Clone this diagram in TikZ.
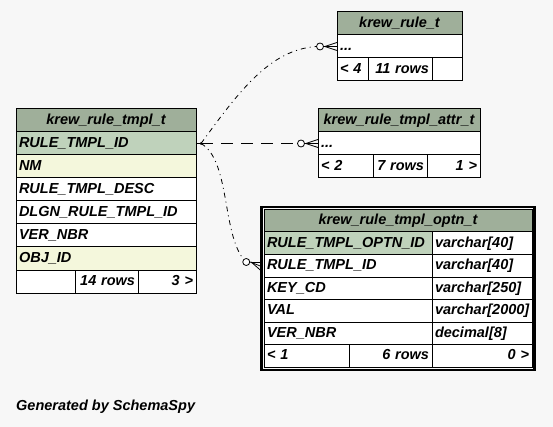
\documentclass[tikz,border=0pt]{standalone}
\usepackage{fontspec}
\setmainfont{Liberation Sans}
\usetikzlibrary{positioning,calc,fit}
\definecolor{bgcol}{HTML}{F7F7F7}
\definecolor{hdrcol}{HTML}{9FAF9A}
\definecolor{keycol}{HTML}{BFD2BB}
\definecolor{idxcol}{HTML}{F4F7DC}
\tikzset{
    cell/.style={draw,rectangle,anchor=north west,line width=1pt,inner xsep=3pt,inner ysep=0pt,outer sep=0pt,
        minimum height=23pt,minimum width=#1,text width=#1-6pt,text height=10.5pt,text depth=3pt,align=left,fill=white,
        font=\fontsize{14.5}{17}\selectfont\bfseries\itshape},
    hdr/.style={fill=hdrcol,align=center},
    pk/.style={fill=keycol},
    idx/.style={fill=idxcol},
    rgt/.style={align=right},
    rel/.style={line width=0.8pt,dash pattern=on 5pt off 4pt on 1pt off 4pt},
    fk/.style={line width=0.8pt,dash pattern=on 12pt off 8pt},
    zero/.style={circle,draw,line width=0.8pt,fill=white,minimum size=7pt,inner sep=0pt}
}

\begin{document}
\begin{tikzpicture}[x=1pt,y=-1pt]
    \fill[bgcol] (0,0) rectangle (553,427);
    \useasboundingbox (0,0) rectangle (553,427);

    % krew_rule_tmpl_t
    \node[cell=180,hdr] (tmplhdr) at (16,109) {krew\_rule\_tmpl\_t};
    \node[cell=180,pk] (tmplid) at (16,132) {RULE\_TMPL\_ID};
    \node[cell=180,idx] (tmplnm) at (16,155) {NM};
    \node[cell=180] (tmpldesc) at (16,178) {RULE\_TMPL\_DESC};
    \node[cell=180] (tmpldlgn) at (16,201) {DLGN\_RULE\_TMPL\_ID};
    \node[cell=180] (tmplver) at (16,224) {VER\_NBR};
    \node[cell=180,idx] (tmplobj) at (16,247) {OBJ\_ID};
    \node[cell=59] (tmplft1) at (16,270) {};
    \node[cell=63,rgt] (tmplft2) at (75,270) {14 rows};
    \node[cell=58,rgt] (tmplft3) at (138,270) {3 >};

    % krew_rule_t
    \node[cell=125,hdr] (rulehdr) at (337,12) {krew\_rule\_t};
    \node[cell=125] (rulerow) at (337,35) {...};
    \node[cell=31] (ruleft1) at (337,58) {< 4};
    \node[cell=64,rgt] (ruleft2) at (368,58) {11 rows};
    \node[cell=30] (ruleft3) at (432,58) {};

    % krew_rule_tmpl_attr_t
    \node[cell=162,hdr] (attrhdr) at (318,109) {krew\_rule\_tmpl\_attr\_t};
    \node[cell=162] (attrrow) at (318,132) {...};
    \node[cell=55] (attrft1) at (318,155) {< 2};
    \node[cell=54,rgt] (attrft2) at (373,155) {7 rows};
    \node[cell=53,rgt] (attrft3) at (427,155) {1 >};

    % krew_rule_tmpl_optn_t
    \begin{scope}[every node/.append style={minimum height=22.5pt}]
        \node[cell=268,hdr] (optnhdr) at (264,209.5) {krew\_rule\_tmpl\_optn\_t};
        \node[cell=168,pk] (optnid) at (264,232) {RULE\_TMPL\_OPTN\_ID};
        \node[cell=100] (optnidt) at (432,232) {varchar[40]};
        \node[cell=168] (optnfk) at (264,254.5) {RULE\_TMPL\_ID};
        \node[cell=100] (optnfkt) at (432,254.5) {varchar[40]};
        \node[cell=168] (optnkey) at (264,277) {KEY\_CD};
        \node[cell=100] (optnkeyt) at (432,277) {varchar[250]};
        \node[cell=168] (optnval) at (264,299.5) {VAL};
        \node[cell=100] (optnvalt) at (432,299.5) {varchar[2000]};
        \node[cell=168] (optnver) at (264,322) {VER\_NBR};
        \node[cell=100] (optnvert) at (432,322) {decimal[8]};
        \node[cell=85] (optnft1) at (264,344.5) {< 1};
        \node[cell=83,rgt] (optnft2) at (349,344.5) {6 rows};
        \node[cell=100,rgt] (optnft3) at (432,344.5) {0 >};
    \end{scope}
    \node[draw,line width=2.5pt,inner sep=2.5pt,fit=(optnhdr)(optnft3)] (optnbox) {};

    % relationships
    \coordinate (jn) at ($(tmplid.east)+(5,0)$);
    \draw[line width=0.8pt] (tmplid.east) -- (jn);
    \fill (jn) circle (1.5pt);
    \node[zero] (z1) at ($(rulerow.west)+(-17,0)$) {};
    \node[zero] (z2) at ($(attrrow.west)+(-17,0)$) {};
    \node[zero] (z3) at ($(optnbox.west |- optnfk)+(-14,-4)$) {};
    \coordinate (e3) at (optnbox.west |- optnfk);
    \draw[rel] (jn) .. controls (240,90) and (270,50) .. (z1.west);
    \draw[fk] (jn) -- (z2.west);
    \draw[rel] (jn) .. controls (230,160) and (222,232) .. (z3.north west);
    \foreach \z/\t in {z1/rulerow.west, z2/attrrow.west, z3/e3} {
        \draw[line width=0.8pt] (\z.east) -- (\t);
        \draw[line width=0.8pt] ($(\z.east)+(1,0)$) -- ($(\t)+(0,-4)$);
        \draw[line width=0.8pt] ($(\z.east)+(1,0)$) -- ($(\t)+(0,4)$);
    }

    \node[anchor=west,inner sep=0pt,font=\fontsize{14.5}{17}\selectfont\bfseries\itshape] (gen) at (16,407) {Generated by SchemaSpy};
\end{tikzpicture}
\end{document}
